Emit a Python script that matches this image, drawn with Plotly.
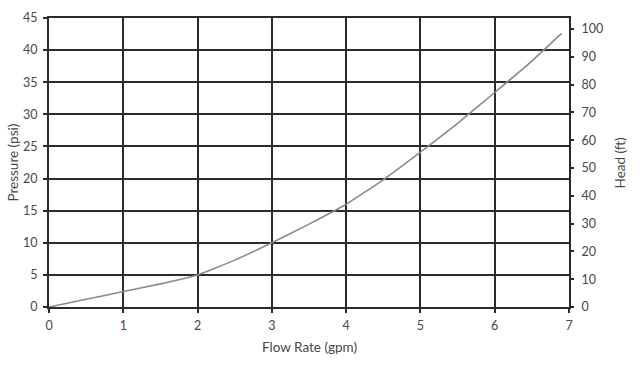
import plotly.graph_objects as go

flow_gpm = [0, 0.5, 1, 1.5, 2, 2.5, 3, 3.5, 4, 4.5, 5, 5.5, 6, 6.5, 6.9]
pressure_psi = [0, 1.2, 2.4, 3.6, 5.0, 7.3, 10.0, 12.9, 16.0, 19.8, 24.1, 28.6, 33.4, 38.3, 42.6]

x_ticks = [0, 1, 2, 3, 4, 5, 6, 7]
psi_ticks = [0, 5, 10, 15, 20, 25, 30, 35, 40, 45]
head_ticks = [0, 10, 20, 30, 40, 50, 60, 70, 80, 90, 100]
FT_PER_PSI = 2.31

grid = "#2b2b2b"
txt = "#474747"
font_family = "Lato, 'Open Sans', sans-serif"
tick_size = 12.5
title_size = 13.5

fig = go.Figure()
fig.add_trace(go.Scatter(x=flow_gpm, y=pressure_psi, mode="lines",
                         line=dict(color="#8a8a8a", width=1.6, shape="spline", smoothing=0.4),
                         showlegend=False, hoverinfo="skip"))
# invisible trace for secondary axis
fig.add_trace(go.Scatter(x=[0], y=[0], yaxis="y2", mode="markers",
                         marker=dict(opacity=0), showlegend=False, hoverinfo="skip"))

fig.update_layout(
    width=643, height=381,
    margin=dict(l=49, r=74, t=18, b=74),
    paper_bgcolor="white", plot_bgcolor="white",
    font=dict(family=font_family, size=tick_size, color=txt),
    xaxis=dict(range=[0, 7], tickvals=x_ticks, showgrid=True, gridcolor=grid, gridwidth=2,
               showline=True, linecolor=grid, linewidth=2, mirror=True, zeroline=False,
               ticks="outside", ticklen=4, tickcolor=grid, tickwidth=2, automargin=False,
               ticklabelstandoff=2),
    yaxis=dict(range=[0, 45], tickvals=psi_ticks, showgrid=True, gridcolor=grid, gridwidth=2,
               showline=True, linecolor=grid, linewidth=2, mirror=True, zeroline=False,
               ticks="outside", ticklen=4, tickcolor=grid, tickwidth=2, automargin=False,
               ticklabelstandoff=3),
    yaxis2=dict(range=[0, 45 * FT_PER_PSI], tickvals=head_ticks, overlaying="y", side="right",
                showgrid=False, zeroline=False, showline=False, automargin=False,
                ticks="outside", ticklen=4, tickcolor=grid, tickwidth=1.5,
                ticklabelstandoff=5),
    annotations=[
        dict(text="Flow Rate (gpm)", xref="paper", yref="paper", x=0.5, y=-0.138,
             xanchor="center", yanchor="middle", showarrow=False,
             font=dict(size=title_size, color=txt)),
        dict(text="Pressure (psi)", xref="paper", yref="paper", x=-0.071, y=0.5,
             xanchor="center", yanchor="middle", textangle=-90, showarrow=False,
             font=dict(size=title_size, color=txt)),
        dict(text="Head (ft)", xref="paper", yref="paper", x=1.098, y=0.5,
             xanchor="center", yanchor="middle", textangle=-90, showarrow=False,
             font=dict(size=title_size, color=txt)),
    ],
)

fig.write_html("out.html", config={"displayModeBar": False},
               post_script="document.body.style.margin='0';")
